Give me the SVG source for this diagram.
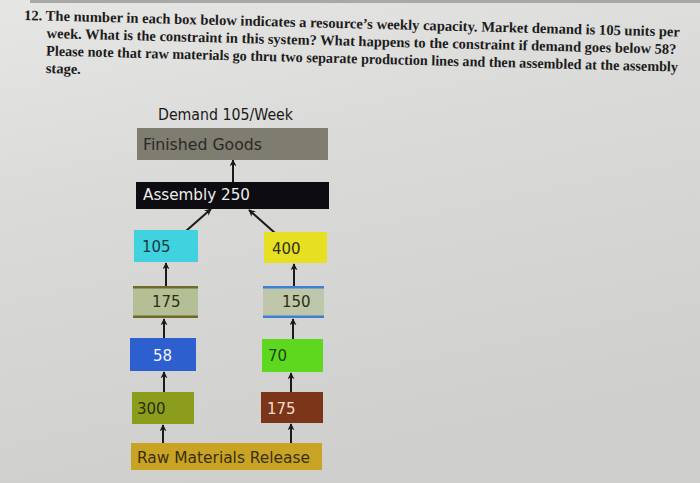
<svg xmlns="http://www.w3.org/2000/svg" width="700" height="483" viewBox="0 0 700 483">
<defs>
<linearGradient id="bg" x1="0" y1="0" x2="0.3" y2="1">
<stop offset="0" stop-color="#e6e6e4"/>
<stop offset="0.4" stop-color="#dadad8"/>
<stop offset="1" stop-color="#cfcfcd"/>
</linearGradient>
<marker id="ah" viewBox="0 0 10 10" refX="9" refY="5" markerWidth="7" markerHeight="7" orient="auto" markerUnits="userSpaceOnUse">
<path d="M0,0 L10,5 L0,10 L3,5 z" fill="#1a1a1a"/>
</marker>
<style>
.q{font-family:"Liberation Serif","Times New Roman",serif;font-size:14.5px;font-weight:bold;fill:#1c1c1c}
.t{font-family:"DejaVu Sans",Verdana,sans-serif;font-size:15px}
.c line{stroke:#1a1a1a;stroke-width:2;marker-end:url(#ah)}
</style>
</defs>
<rect width="700" height="483" fill="url(#bg)"/>
<rect x="30" y="0" width="670" height="3" fill="#a8a8a6"/>
<g id="question" transform="rotate(1.45 24 20)">
<text class="q" x="24" y="20" textLength="656" lengthAdjust="spacingAndGlyphs">12. The number in each box below indicates a resource’s weekly capacity. Market demand is 105 units per</text>
<text class="q" x="47" y="37.5" textLength="630" lengthAdjust="spacingAndGlyphs">week. What is the constraint in this system? What happens to the constraint if demand goes below 58?</text>
<text class="q" x="47" y="55" textLength="632" lengthAdjust="spacingAndGlyphs">Please note that raw materials go thru two separate production lines and then assembled at the assembly</text>
<text class="q" x="47" y="72.5">stage.</text>
</g>
<text id="demand" class="t" x="158" y="120" fill="#1a1a1a" textLength="135" lengthAdjust="spacingAndGlyphs">Demand 105/Week</text>
<g class="c" id="connectors">
<line x1="233" y1="182" x2="233" y2="160"/>
<line x1="186" y1="231" x2="211" y2="209"/>
<line x1="275" y1="233" x2="249" y2="210"/>
<line x1="166" y1="286" x2="166" y2="263"/>
<line x1="294" y1="286" x2="294" y2="264"/>
<line x1="164" y1="338" x2="164" y2="319"/>
<line x1="293" y1="339" x2="293" y2="319"/>
<line x1="164" y1="392" x2="164" y2="372"/>
<line x1="291" y1="392" x2="291" y2="373"/>
<line x1="163" y1="443" x2="163" y2="425"/>
<line x1="291" y1="443" x2="291" y2="424"/>
</g>
<g id="finished">
<rect x="137" y="128" width="191" height="32" fill="#7f7c70"/>
<text class="t" x="143" y="150" fill="#2a2a26" textLength="119" lengthAdjust="spacingAndGlyphs">Finished Goods</text>
</g>
<g id="assembly">
<rect x="136" y="182" width="193" height="27" fill="#0d0d11"/>
<text class="t" x="143" y="200" fill="#ececec" textLength="107" lengthAdjust="spacingAndGlyphs">Assembly 250</text>
</g>
<g id="n105">
<rect x="134" y="230" width="64" height="32" fill="#40d3df"/>
<text class="t" x="142" y="252" fill="#1a3a40">105</text>
</g>
<g id="n400">
<rect x="264" y="232" width="63" height="31" fill="#e6df22"/>
<text class="t" x="272" y="254" fill="#333020">400</text>
</g>
<g id="n175a">
<rect x="133" y="286" width="65" height="32" fill="#b5bf96"/>
<rect x="133" y="286" width="65" height="2.5" fill="#6e6a2a"/>
<rect x="133" y="315.5" width="65" height="2.5" fill="#6e6a2a"/>
<text class="t" x="152" y="307" fill="#2a3010">175</text>
</g>
<g id="n150">
<rect x="263" y="286" width="61" height="32" fill="#bfc7aa"/>
<rect x="263" y="286" width="61" height="2.5" fill="#3d80d2"/>
<rect x="263" y="315.5" width="61" height="2.5" fill="#3d80d2"/>
<text class="t" x="282" y="307" fill="#2a3010">150</text>
</g>
<g id="n58">
<rect x="130" y="338" width="66" height="33" fill="#2d5fcf"/>
<text class="t" x="153" y="361" fill="#f2f4ff">58</text>
</g>
<g id="n70">
<rect x="262" y="339" width="61" height="33" fill="#5ed81f"/>
<text class="t" x="268" y="361" fill="#1e4410">70</text>
</g>
<g id="n300">
<rect x="132" y="392" width="62" height="32" fill="#8c9c1d"/>
<text class="t" x="137" y="414" fill="#283008">300</text>
</g>
<g id="n175b">
<rect x="261" y="392" width="62" height="31" fill="#7c3519"/>
<text class="t" x="267" y="414" fill="#f2dccc">175</text>
</g>
<g id="raw">
<rect x="131" y="443" width="191" height="27" fill="#c9a424"/>
<text class="t" x="137" y="463" fill="#3a2e10" textLength="173" lengthAdjust="spacingAndGlyphs">Raw Materials Release</text>
</g>
</svg>
